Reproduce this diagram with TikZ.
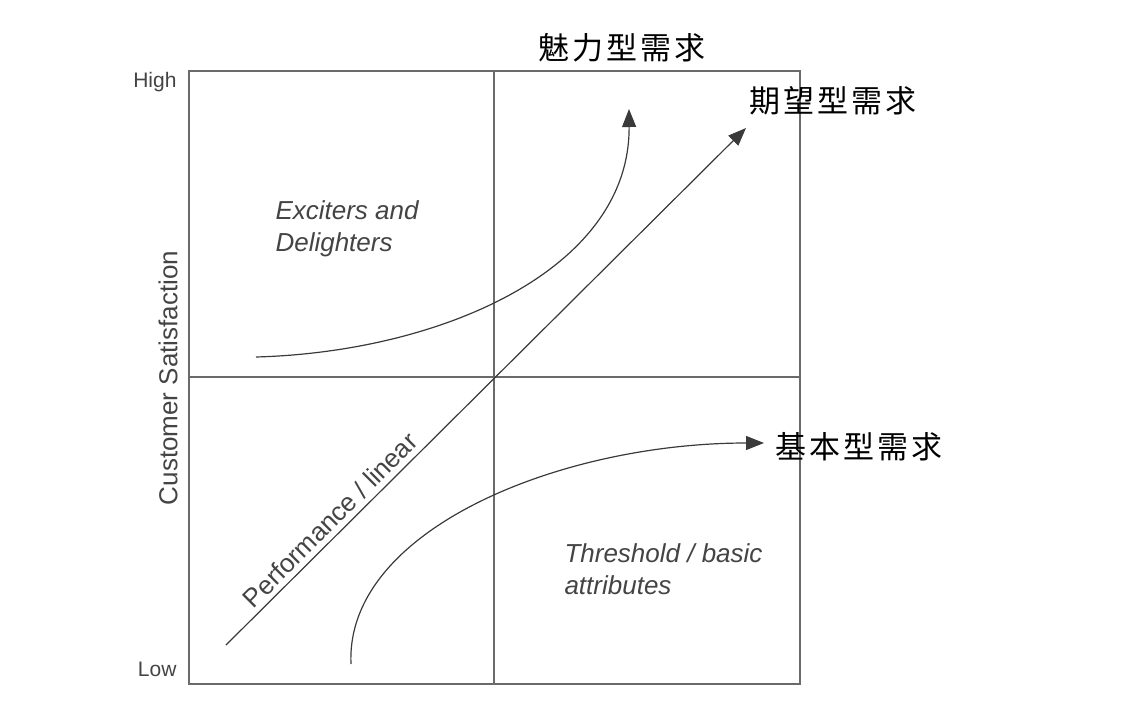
\documentclass[tikz,border=0pt]{standalone}
\usepackage{fontspec}
\setmainfont{Liberation Sans}
\newfontfamily\cjk[LetterSpace=10]{Noto Sans CJK SC}
\usepackage{xcolor}
\usetikzlibrary{arrows.meta,positioning}
\definecolor{frameGray}{HTML}{6A6A6A}
\definecolor{curveGray}{HTML}{3A3A3A}
\definecolor{labelGray}{HTML}{444444}

\begin{document}
\begin{tikzpicture}[
  x=1pt, y=-1pt,
  every node/.style={font=\fontsize{26}{32}\selectfont, text=labelGray},
  frame/.style={draw=frameGray, line width=1.4pt},
  curve/.style={draw=curveGray, line width=1.2pt, -{Triangle[length=18pt,width=14pt]}},
  zone/.style={font=\fontsize{26}{32}\selectfont\itshape, align=left, anchor=north west},
  kano/.style={font=\cjk\fontsize{31}{34}\selectfont, text=black, inner sep=0pt}
]
  \useasboundingbox (0,0) rectangle (1128,712);

  % Quadrant frame
  \draw[frame] (189,71) rectangle (800,684);
  \coordinate (midTop) at (494,71);
  \coordinate (midBot) at (494,684);
  \coordinate (midL) at (189,377);
  \coordinate (midR) at (800,377);
  \draw[frame] (midTop) -- (midBot);
  \draw[frame] (midL) -- (midR);

  % Axis labels
  \node[anchor=east, font=\fontsize{21}{24}\selectfont] (high) at (180,82) {High};
  \node[anchor=east, font=\fontsize{21}{24}\selectfont] (low) at (180,669) {Low};
  \node[rotate=90] (ysat) at (168,378) {Customer Satisfaction};

  % Curve end points
  \coordinate (linStart) at (226,645);
  \coordinate (linEnd) at (746,128);
  \coordinate (excStart) at (256,357);
  \coordinate (excEnd) at (629,109);
  \coordinate (thrStart) at (351,664);
  \coordinate (thrEnd) at (764,443);

  % Curves
  \draw[curve] (linStart) -- (linEnd);
  \draw[curve] (excStart) .. controls (440,352) and (630,270) .. (excEnd);
  \draw[curve] (thrStart) .. controls (345,530) and (560,443) .. (thrEnd);

  % Zone labels
  \node[zone] (exciters) at (272,197) {Exciters and\\Delighters};
  \node[zone] (threshold) at (561,540) {Threshold / basic\\attributes};
  \node[rotate=45] (perf) at (330,520) {Performance / linear};

  % Kano labels
  \node[kano] (attract) at (622,48) {魅力型需求};
  \node[kano, anchor=west] (expect) at (749,101) {期望型需求};
  \node[kano, anchor=west] (basic) at (775,447) {基本型需求};
\end{tikzpicture}
\end{document}
